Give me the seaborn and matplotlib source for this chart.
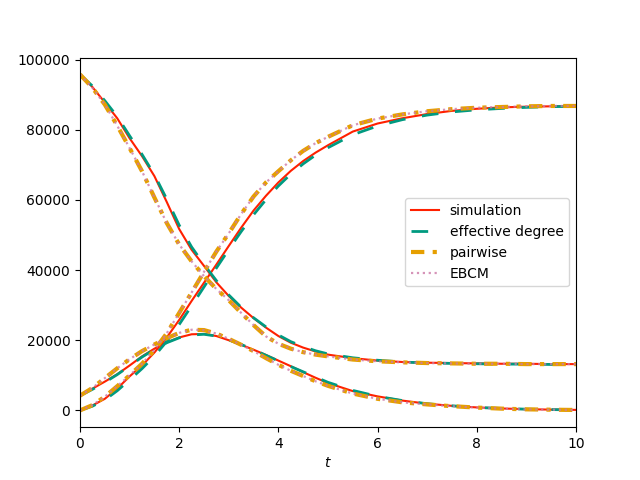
# SIR curves: stochastic simulation vs. three deterministic approximations
import matplotlib
matplotlib.use("Agg")
import matplotlib.pyplot as plt
import seaborn as sns

# time points
t = [0, 0.25, 0.5, 0.75, 1, 1.25, 1.5, 1.75, 2, 2.25, 2.5, 2.75, 3, 3.25, 3.5,
     3.75, 4, 4.25, 4.5, 4.75, 5, 5.5, 6, 6.5, 7, 7.5, 8, 8.5, 9, 9.5, 10]

# simulation
S_sim = [95800, 92200, 87800, 83300, 77600, 72500, 66800, 59400, 51700, 45800, 41200,
         36500, 32600, 29300, 26300, 23600, 21200, 19300, 17900, 16800, 15900, 14900,
         14200, 13800, 13600, 13500, 13400, 13300, 13300, 13200, 13200]
I_sim = [4200, 6200, 8200, 10300, 12800, 15400, 17600, 19400, 20800, 21700, 21800,
         21200, 20000, 18700, 17300, 15800, 14200, 12600, 10900, 9300, 7800, 5500,
         4000, 2800, 1900, 1300, 850, 550, 350, 220, 150]
R_sim = [0, 1400, 3300, 6200, 9700, 12800, 16500, 20800, 25800, 31200, 36400, 41600,
         46900, 52100, 57000, 61200, 65000, 68300, 71100, 73500, 75600, 79500, 81800,
         83300, 84500, 85400, 86000, 86400, 86600, 86700, 86800]

# effective degree model
S_ed = [95800, 92500, 88300, 83800, 78300, 73000, 67200, 60200, 52800, 46600, 41600,
        37000, 32900, 29400, 26400, 23800, 21500, 19600, 18200, 17000, 16100, 15000,
        14300, 13800, 13500, 13400, 13300, 13200, 13200, 13100, 13100]
I_ed = [4200, 6000, 8000, 10200, 12700, 15200, 17400, 19300, 20700, 21500, 21700,
        21200, 20100, 18800, 17300, 15700, 14100, 12500, 11000, 9500, 8000, 5700,
        4000, 2800, 1900, 1300, 850, 550, 350, 230, 150]
R_ed = [0, 1200, 3000, 5600, 8700, 11900, 15500, 19700, 24500, 29800, 35200, 40600,
        45900, 51000, 55800, 60100, 64000, 67400, 70300, 72800, 74900, 78600, 81100,
        82900, 84200, 85100, 85700, 86100, 86400, 86600, 86700]

# pairwise model
S_pw = [95800, 92000, 87200, 81200, 74800, 68200, 60700, 53400, 47300, 42500, 38300,
        34600, 31400, 27800, 24300, 21100, 19000, 17600, 16600, 15900, 15400, 14500,
        14000, 13700, 13500, 13400, 13300, 13300, 13200, 13200, 13200]
I_pw = [4200, 6400, 9200, 12000, 14600, 16900, 18800, 20600, 22100, 23000, 22900,
        21900, 20400, 18700, 16900, 14900, 13000, 11300, 9800, 8300, 7000, 4800,
        3300, 2300, 1700, 1200, 800, 500, 300, 200, 120]
R_pw = [0, 1500, 3900, 6900, 10000, 13300, 17200, 22000, 27800, 33600, 39500, 45300,
        50500, 56000, 61000, 65000, 68200, 71300, 74000, 76200, 78000, 81300, 83200,
        84400, 85300, 85900, 86300, 86500, 86700, 86800, 86800]

# EBCM (lies on top of the pairwise curves)
S_ebcm = [95800, 92000, 87200, 81200, 74800, 68200, 60700, 53400, 47300, 42500, 38300,
          34600, 31400, 27800, 24300, 21100, 19000, 17600, 16600, 15900, 15400, 14500,
          14000, 13700, 13500, 13400, 13300, 13300, 13200, 13200, 13200]
I_ebcm = [4200, 6400, 9200, 12000, 14600, 16900, 18800, 20600, 22100, 23000, 22900,
          21900, 20400, 18700, 16900, 14900, 13000, 11300, 9800, 8300, 7000, 4800,
          3300, 2300, 1700, 1200, 800, 500, 300, 200, 120]
R_ebcm = [0, 1500, 3900, 6900, 10000, 13300, 17200, 22000, 27800, 33600, 39500, 45300,
          50500, 56000, 61000, 65000, 68200, 71300, 74000, 76200, 78000, 81300, 83200,
          84400, 85300, 85900, 86300, 86500, 86700, 86800, 86800]

fig, ax = plt.subplots(figsize=(6.4, 4.8), dpi=100)

models = [
    ("simulation", [S_sim, I_sim, R_sim], dict(color="#ff2000", lw=1.5, linestyle="-")),
    ("effective degree", [S_ed, I_ed, R_ed], dict(color="#009a80", lw=2, linestyle=(0, (6, 6)))),
    ("pairwise", [S_pw, I_pw, R_pw], dict(color="#e69f00", lw=3, linestyle=(0, (3.2, 2, 1, 2)))),
    ("EBCM", [S_ebcm, I_ebcm, R_ebcm], dict(color="#cc79a7", lw=1.6, alpha=0.8, linestyle=":")),
]

for name, curves, style in models:
    for k, y in enumerate(curves):
        sns.lineplot(x=t, y=y, ax=ax, label=name if k == 0 else None, **style)

ax.set_xlim(0, 10)
ax.set_xlabel("$t$")
ax.legend(loc="center right")

plt.savefig("out.png")
